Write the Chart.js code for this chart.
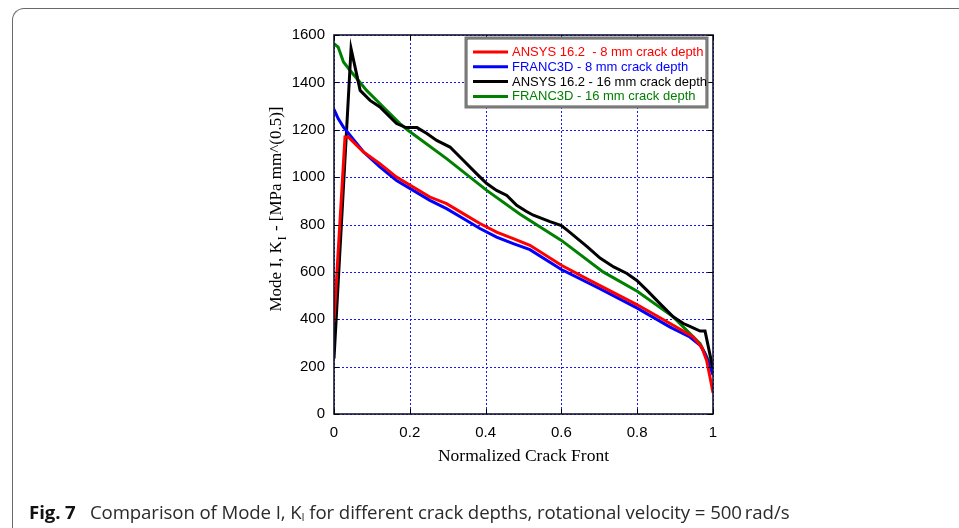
<!DOCTYPE html>
<html>
<head>
<meta charset="utf-8">
<script src="https://cdn.jsdelivr.net/npm/chart.js@4"></script>
<style>
  html, body { margin: 0; padding: 0; background: #fff; width: 959px; height: 528px; overflow: hidden; }
  #frame { position: absolute; left: 12px; top: 8px; width: 1000px; height: 600px;
           border-left: 1.5px solid #6a6a6a; border-top: 1.5px solid #6a6a6a; border-top-left-radius: 12px; }
  #wrap { position: absolute; left: 0; top: 0; width: 959px; height: 528px; }
  #caption { position: absolute; left: 29px; top: 499px; font-family: "Open Sans", sans-serif; font-size: 18.65px;
             color: #2b2b2b; white-space: nowrap; line-height: 26px; letter-spacing: -0.1px; }
  #caption b { font-weight: 700; color: #111; }
  #caption sub { font-size: 11px; vertical-align: -2px; }
</style>
</head>
<body>
<div id="frame"></div>
<div id="wrap"><canvas id="c" width="959" height="528"></canvas></div>
<div id="caption"><b>Fig. 7</b>&nbsp;&nbsp;&nbsp;Comparison of Mode I, K<sub>I</sub> for different crack depths, rotational velocity = 500&#8201;rad/s</div>
<script>
// ---- data ----
const seriesLabels = [
  "ANSYS 16.2  - 8 mm crack depth",
  "FRANC3D - 8 mm crack depth",
  "ANSYS 16.2 - 16 mm crack depth",
  "FRANC3D - 16 mm crack depth"
];
const xTickValues = [0, 0.2, 0.4, 0.6, 0.8, 1];
const yTickValues = [0, 200, 400, 600, 800, 1000, 1200, 1400, 1600];

const ansys8X = [0, 0.029, 0.038, 0.078, 0.121, 0.165, 0.209, 0.253, 0.297, 0.341, 0.385, 0.429, 0.473, 0.517, 0.600, 0.675, 0.799, 0.887, 0.948, 0.970, 0.983, 0.992, 1.0];
const ansys8Y = [390, 1169, 1169, 1106, 1057, 1000, 958, 916, 888, 846, 804, 768, 740, 712, 628, 564, 462, 382, 325, 283, 227, 156, 90];

const franc8X = [0, 0.011, 0.025, 0.078, 0.121, 0.165, 0.209, 0.253, 0.297, 0.341, 0.385, 0.429, 0.473, 0.517, 0.600, 0.70, 0.799, 0.887, 0.939, 0.966, 0.979, 0.992, 1.0];
const franc8Y = [1286, 1247, 1211, 1106, 1043, 986, 944, 902, 867, 825, 783, 747, 719, 694, 610, 530, 448, 367, 325, 290, 255, 198, 165];

const ansys16X = [0, 0.045, 0.069, 0.095, 0.121, 0.165, 0.19, 0.219, 0.245, 0.271, 0.306, 0.341, 0.376, 0.403, 0.429, 0.456, 0.482, 0.508, 0.526, 0.570, 0.600, 0.620, 0.667, 0.702, 0.738, 0.773, 0.799, 0.826, 0.860, 0.895, 0.922, 0.939, 0.966, 0.979, 1.0];
const ansys16Y = [234, 1542, 1366, 1324, 1296, 1226, 1209, 1209, 1184, 1155, 1127, 1071, 1015, 973, 944, 923, 881, 855, 839, 812, 795, 770, 708, 658, 621, 593, 564, 522, 466, 410, 382, 370, 350, 350, 190];

const franc16X = [0, 0.011, 0.025, 0.042, 0.064, 0.086, 0.130, 0.174, 0.196, 0.297, 0.403, 0.491, 0.600, 0.710, 0.800, 0.895, 0.966, 0.997, 1.0];
const franc16Y = [1563, 1549, 1486, 1451, 1409, 1366, 1296, 1226, 1197, 1078, 944, 843, 733, 600, 518, 410, 297, 198, 185];

const seriesColors = ["#ff0000", "#0000ff", "#000000", "#008000"];
const legendTextColors = ["#ff0000", "#0000ff", "#000000", "#008000"];

function pts(xs, ys) { return xs.map((x, i) => ({ x: x, y: ys[i] })); }
const seriesData = [pts(ansys8X, ansys8Y), pts(franc8X, franc8Y), pts(ansys16X, ansys16Y), pts(franc16X, franc16Y)];

const gridPlugin = {
  id: 'gridPlugin',
  beforeDatasetsDraw(chart) {
    const ctx = chart.ctx;
    const { left, right, top, bottom } = chart.chartArea;
    const xs = chart.scales.x, ys = chart.scales.y;
    ctx.save();
    ctx.strokeStyle = '#1515ff';
    ctx.lineWidth = 1;
    ctx.setLineDash([2, 2]);
    ctx.beginPath();
    xTickValues.forEach(v => {
      const p = Math.round(xs.getPixelForValue(v)) + 0.5;
      ctx.moveTo(p, top); ctx.lineTo(p, bottom);
    });
    yTickValues.forEach(v => {
      const p = Math.round(ys.getPixelForValue(v)) + 0.5;
      ctx.moveTo(left, p); ctx.lineTo(right, p);
    });
    ctx.stroke();
    ctx.restore();
  }
};

const overlay = {
  id: 'overlay',
  afterDraw(chart) {
    const ctx = chart.ctx;
    const { left, right, top, bottom } = chart.chartArea;
    const xs = chart.scales.x, ys = chart.scales.y;
    ctx.save();
    // box
    ctx.strokeStyle = '#151530';
    ctx.lineWidth = 1.6;
    ctx.strokeRect(left, top, right - left, bottom - top);
    // inward ticks
    ctx.strokeStyle = '#000';
    ctx.lineWidth = 1;
    ctx.beginPath();
    xTickValues.forEach(v => {
      const p = Math.round(xs.getPixelForValue(v)) + 0.5;
      ctx.moveTo(p, bottom); ctx.lineTo(p, bottom - 5);
      ctx.moveTo(p, top); ctx.lineTo(p, top + 5);
    });
    yTickValues.forEach(v => {
      const p = Math.round(ys.getPixelForValue(v)) + 0.5;
      ctx.moveTo(left, p); ctx.lineTo(left + 5, p);
      ctx.moveTo(right, p); ctx.lineTo(right - 5, p);
    });
    ctx.stroke();

    // legend
    const lx = 465.5, ly = 37.5, lw = 242, lh = 70;
    ctx.fillStyle = '#fff';
    ctx.fillRect(lx, ly, lw, lh);
    ctx.strokeStyle = '#777';
    ctx.lineWidth = 2;
    ctx.strokeRect(lx, ly, lw, lh);
    ctx.strokeStyle = '#222';
    ctx.lineWidth = 0.8;
    ctx.strokeRect(lx + 1.5, ly + 1.5, lw - 3, lh - 3);
    ctx.font = '13px "Liberation Sans", Arial, sans-serif';
    ctx.textBaseline = 'middle';
    ctx.textAlign = 'left';
    seriesLabels.forEach((lab, i) => {
      const yy = 52 + i * 14.8;
      ctx.strokeStyle = seriesColors[i];
      ctx.lineWidth = 3;
      ctx.beginPath();
      ctx.moveTo(473, yy); ctx.lineTo(508, yy);
      ctx.stroke();
      ctx.fillStyle = legendTextColors[i];
      ctx.fillText(lab, 512, yy + 0.5);
    });

    // x title
    ctx.fillStyle = '#000';
    ctx.font = '17.5px "Liberation Serif", "Times New Roman", serif';
    ctx.textAlign = 'center';
    ctx.textBaseline = 'middle';
    ctx.fillText('Normalized Crack Front', (left + right) / 2, 456);

    // y title (rotated, with subscript)
    ctx.save();
    ctx.translate(275, 209);
    ctx.rotate(-Math.PI / 2);
    const big = '17px "Liberation Serif", "Times New Roman", serif';
    const small = '11.5px "Liberation Serif", "Times New Roman", serif';
    const p1 = 'Mode I, K', p2 = 'I', p3 = ' - [MPa mm^(0.5)]';
    ctx.font = big; const w1 = ctx.measureText(p1).width; const w3 = ctx.measureText(p3).width;
    ctx.font = small; const w2 = ctx.measureText(p2).width + 2;
    const total = w1 + w2 + w3;
    let cx = -total / 2;
    ctx.textAlign = 'left';
    ctx.textBaseline = 'alphabetic';
    ctx.font = big; ctx.fillText(p1, cx, 5.5); cx += w1;
    ctx.font = small; ctx.fillText(p2, cx + 1, 10.5); cx += w2;
    ctx.font = big; ctx.fillText(p3, cx, 5.5);
    ctx.restore();

    ctx.restore();
  }
};

new Chart(document.getElementById('c'), {
  type: 'scatter',
  data: {
    datasets: seriesData.map((d, i) => ({
      label: seriesLabels[i],
      data: d,
      showLine: true,
      borderColor: seriesColors[i],
      backgroundColor: seriesColors[i],
      borderWidth: 3,
      pointRadius: 0,
      tension: 0,
      fill: false
    }))
  },
  options: {
    responsive: false,
    animation: false,
    devicePixelRatio: 1,
    layout: { padding: { left: 0, top: 35, right: 246, bottom: 0 } },
    plugins: { legend: { display: false }, tooltip: { enabled: false } },
    scales: {
      x: {
        type: 'linear', min: 0, max: 1,
        afterBuildTicks: s => { s.ticks = xTickValues.map(v => ({ value: v })); },
        afterFit: s => { s.height = 114; },
        grid: { display: false, drawTicks: false },
        border: { display: false },
        ticks: { color: '#000', padding: 10, maxRotation: 0, font: { family: '"Liberation Sans", Arial, sans-serif', size: 15 },
                 callback: v => String(v) }
      },
      y: {
        type: 'linear', min: 0, max: 1600,
        afterBuildTicks: s => { s.ticks = yTickValues.map(v => ({ value: v })); },
        afterFit: s => { s.width = 334; },
        grid: { display: false, drawTicks: false },
        border: { display: false },
        ticks: { color: '#000', padding: 9, font: { family: '"Liberation Sans", Arial, sans-serif', size: 15 },
                 callback: v => String(v) }
      }
    }
  },
  plugins: [gridPlugin, overlay]
});
</script>
</body>
</html>
